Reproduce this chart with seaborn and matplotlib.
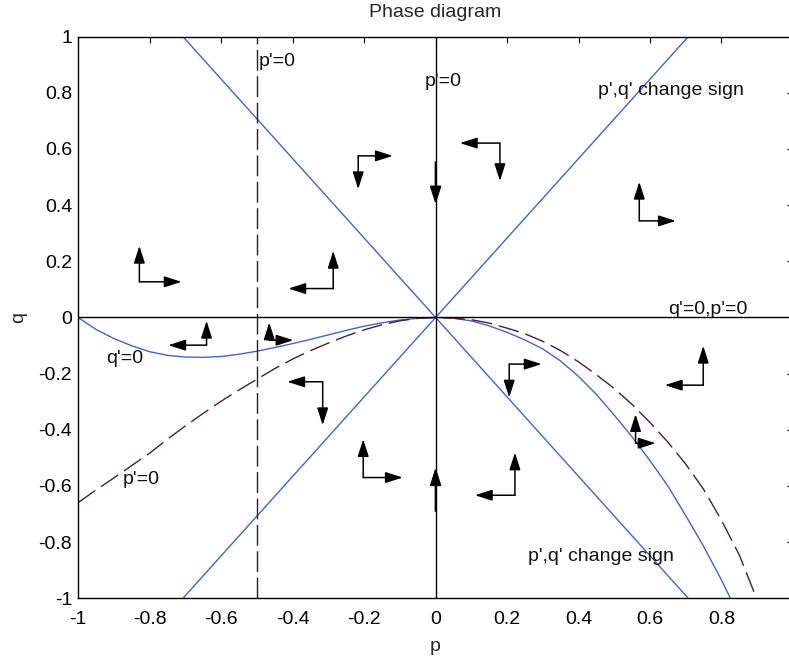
import matplotlib
matplotlib.use('Agg')
import matplotlib.pyplot as plt
import seaborn as sns

# lines where p',q' change sign
sign_p = [-0.707, 0.707]
sign_q_down = [1.0, -1.0]
sign_q_up = [-1.0, 1.0]

# q'=0 curve (solid blue)
qnull_p = [-1.0, -0.95, -0.9, -0.85, -0.8, -0.75, -0.7, -0.65, -0.6, -0.55,
           -0.5, -0.45, -0.4, -0.35, -0.3, -0.25, -0.2, -0.15, -0.1, -0.05,
           0.0, 0.05, 0.1, 0.15, 0.2, 0.25, 0.3, 0.35, 0.4, 0.45,
           0.5, 0.55, 0.6, 0.65, 0.7, 0.75, 0.8, 0.825]
qnull_q = [0.0, -0.043, -0.075, -0.101, -0.122, -0.135, -0.141, -0.142, -0.139, -0.131,
           -0.120, -0.107, -0.093, -0.078, -0.062, -0.046, -0.031, -0.019, -0.009, -0.003,
           0.0, -0.003, -0.012, -0.030, -0.053, -0.080, -0.112, -0.155, -0.210, -0.274,
           -0.348, -0.425, -0.510, -0.600, -0.706, -0.815, -0.935, -1.0]

# p'=0 curve (dashed)
pnull_p = [-1.0, -0.95, -0.9, -0.85, -0.8, -0.75, -0.7, -0.65, -0.6, -0.55,
           -0.5, -0.45, -0.4, -0.35, -0.3, -0.25, -0.2, -0.15, -0.1, -0.05,
           0.0, 0.05, 0.1, 0.15, 0.2, 0.25, 0.3, 0.35, 0.4, 0.45,
           0.5, 0.55, 0.6, 0.65, 0.7, 0.75, 0.8, 0.85, 0.895]
pnull_q = [-0.659, -0.614, -0.571, -0.527, -0.483, -0.433, -0.386, -0.341, -0.298, -0.258,
           -0.220, -0.182, -0.148, -0.118, -0.091, -0.066, -0.044, -0.026, -0.012, -0.003,
           0.0, -0.002, -0.008, -0.020, -0.038, -0.058, -0.085, -0.118, -0.158, -0.204,
           -0.253, -0.310, -0.374, -0.444, -0.522, -0.612, -0.722, -0.846, -0.99]

# direction arrows: corner, tip of horizontal arrow, tip of vertical arrow
arr_p = [-0.829, -0.2865, -0.2166, 0.180, 0.570, -0.641, -0.4656,
         -0.316, -0.2026, 0.206, 0.749, 0.5596, 0.222]
arr_q = [0.127, 0.103, 0.5755, 0.621, 0.344, -0.0986, -0.081,
         -0.229, -0.570, -0.166, -0.241, -0.4477, -0.633]
arr_tip_p = [-0.711, -0.412, -0.120, 0.068, 0.672, -0.748, -0.398,
             -0.415, -0.092, 0.2966, 0.6416, 0.6155, 0.110]
arr_tip_q = [0.255, 0.237, 0.457, 0.486, 0.483, -0.012, -0.018,
             -0.3835, -0.4335, -0.285, -0.101, -0.3443, -0.481]

# single arrows on p = 0
axis_arr_from = [0.553, -0.689]
axis_arr_to = [0.403, -0.534]

# labels
label_txt = ["p'=0", "p'=0", "p',q' change sign", "q'=0,p'=0",
             "q'=0", "p'=0", "p',q' change sign"]
label_p = [-0.496, -0.030, 0.455, 0.651, -0.9225, -0.876, 0.259]
label_q = [0.896, 0.823, 0.793, 0.012, -0.163, -0.594, -0.867]

x_ticks = [-1, -0.8, -0.6, -0.4, -0.2, 0, 0.2, 0.4, 0.6, 0.8, 1]
x_tick_labels = ['-1', '-0.8', '-0.6', '-0.4', '-0.2', '0', '0.2', '0.4', '0.6', '0.8', '1']
y_ticks = [-1, -0.8, -0.6, -0.4, -0.2, 0, 0.2, 0.4, 0.6, 0.8, 1]
y_tick_labels = ['-1', '-0.8', '-0.6', '-0.4', '-0.2', '0', '0.2', '0.4', '0.6', '0.8', '1']

blue = "#4066c4"
purple = "#4a1a48"
fs = 14

sns.set_theme(style="white", rc={"axes.edgecolor": "black", "axes.linewidth": 1.0})
plt.rcParams['font.family'] = ['Liberation Sans', 'DejaVu Sans']
plt.rcParams['axes.unicode_minus'] = False

fig = plt.figure(figsize=(7.89, 6.63), dpi=100)
# axes runs a bit past the right edge, like the cropped original
ax = fig.add_axes([0.0992, 0.0976, 0.9058, 0.8471])

sns.lineplot(x=sign_p, y=sign_q_down, ax=ax, color=blue, lw=1)
sns.lineplot(x=sign_p, y=sign_q_up, ax=ax, color=blue, lw=1)
sns.lineplot(x=qnull_p, y=qnull_q, ax=ax, color=blue, lw=1)
sns.lineplot(x=pnull_p, y=pnull_q, ax=ax, color=purple, lw=1)
ax.lines[-1].set_dashes([15, 5])

ax.axhline(0, color="black", lw=1)
ax.axvline(0, color="black", lw=1)
ax.axvline(-0.5, color="#222222", lw=1, dashes=(15, 4))

head = "-|>,head_length=0.75,head_width=0.24"
for p0, q0, hp, vq in zip(arr_p, arr_q, arr_tip_p, arr_tip_q):
    for tip in [(hp, q0), (p0, vq)]:
        ax.annotate("", xy=tip, xytext=(p0, q0),
                    arrowprops=dict(arrowstyle=head, mutation_scale=14,
                                    color="black", lw=1.1,
                                    shrinkA=0, shrinkB=0))

for q0, q1 in zip(axis_arr_from, axis_arr_to):
    ax.annotate("", xy=(0, q1), xytext=(0, q0),
                arrowprops=dict(arrowstyle=head, mutation_scale=14,
                                color="black", lw=1.4,
                                shrinkA=0, shrinkB=0))

for t, x, y in zip(label_txt, label_p, label_q):
    ax.text(x, y, t, fontsize=fs, ha="left", va="baseline", color="#111111")

ax.set_xlim(-1, 1)
ax.set_ylim(-1, 1)
ax.set_xticks(x_ticks)
ax.set_xticklabels(x_tick_labels)
ax.set_yticks(y_ticks)
ax.set_yticklabels(y_tick_labels)
ax.tick_params(direction="in", length=4.3, width=0.8, top=True, right=True,
               labelsize=fs, colors="black")
ax.tick_params(axis="x", pad=9)
ax.tick_params(axis="y", pad=4.5)

ax.set_xlabel("p", fontsize=fs, labelpad=7.5)
ax.set_ylabel("q", fontsize=fs, labelpad=8)
ax.set_title("Phase diagram", fontsize=fs, pad=14.4)

fig.savefig("out.png", dpi=100)
